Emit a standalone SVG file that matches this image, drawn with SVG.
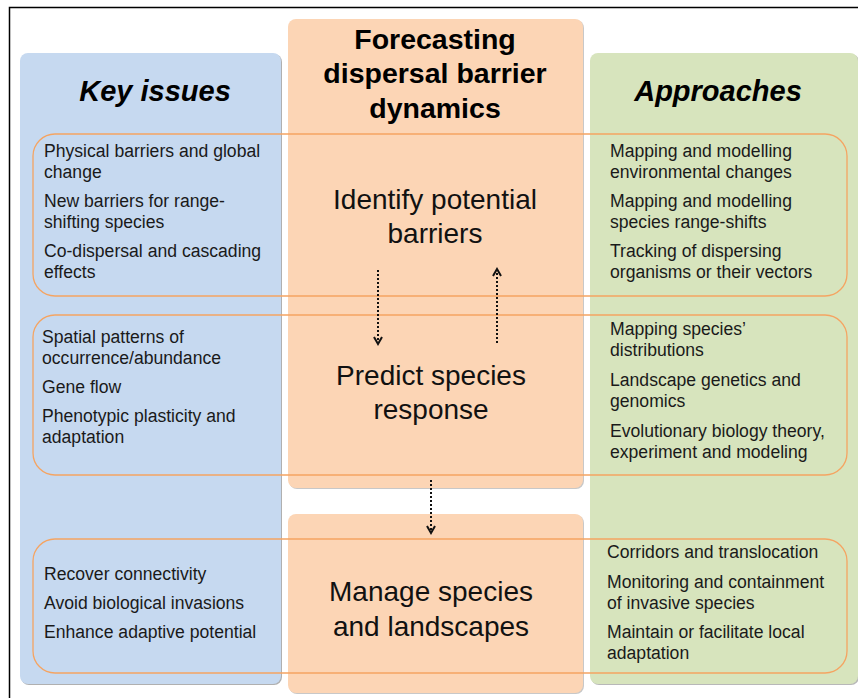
<svg xmlns="http://www.w3.org/2000/svg" width="858" height="698" viewBox="0 0 858 698">
<defs>
<style>
.t{font-family:"Liberation Sans",Arial,sans-serif;font-size:17.6px;fill:#1a1a1a}
.mid{font-family:"Liberation Sans",Arial,sans-serif;font-size:28px;fill:#111;text-anchor:middle}
.hd{font-family:"Liberation Sans",Arial,sans-serif;font-size:29px;font-weight:bold;font-style:italic;fill:#000;text-anchor:middle}
.ttl{font-family:"Liberation Sans",Arial,sans-serif;font-size:28.5px;font-weight:bold;fill:#000;text-anchor:middle}
.ring{fill:none;stroke:#f5a462;stroke-width:1.3}
.conn{fill:none;stroke:#111;stroke-width:2;stroke-dasharray:2 2}
</style>
<marker id="ah" viewBox="0 0 10 10" refX="5" refY="5" markerWidth="10" markerHeight="10" markerUnits="userSpaceOnUse" orient="auto">
<path d="M1,1 L8,5 L1,9" fill="none" stroke="#111" stroke-width="2"/>
</marker>
</defs>
<rect width="858" height="698" fill="#fff"/>
<path d="M9.5,698 V7.5 H858" fill="none" stroke="#000" stroke-width="1.5"/>

<g id="key-issues">
<rect x="21" y="54" width="261" height="631" rx="8" fill="#b0b0b0"/>
<rect x="20" y="53" width="261" height="631" rx="8" fill="#c6d9f0"/>
<text class="hd" x="155" y="101">Key issues</text>
</g>
<g id="approaches">
<rect x="591" y="54" width="268" height="631" rx="8" fill="#b8b8b8"/>
<rect x="590" y="53" width="268" height="631" rx="8" fill="#d7e4bd"/>
<text class="hd" x="718" y="101">Approaches</text>
</g>
<g id="forecasting">
<rect x="289" y="20" width="295" height="469" rx="8" fill="#c8c8c8"/>
<rect x="288" y="19" width="295" height="469" rx="8" fill="#fcd5b5"/>
<text class="ttl" x="435" y="49">Forecasting</text>
<text class="ttl" x="435" y="83">dispersal barrier</text>
<text class="ttl" x="435" y="118">dynamics</text>
</g>
<g id="manage-panel">
<rect x="289" y="515" width="295" height="179" rx="8" fill="#c8c8c8"/>
<rect x="288" y="514" width="295" height="179" rx="8" fill="#fcd5b5"/>
</g>

<g id="row-identify">
<rect class="ring" x="33" y="134" width="814" height="162" rx="22"/>
<text class="mid" x="435" y="209">Identify potential</text>
<text class="mid" x="435" y="243">barriers</text>
<text class="t" x="44" y="157">Physical barriers and global</text>
<text class="t" x="44" y="178">change</text>
<text class="t" x="44" y="207">New barriers for range-</text>
<text class="t" x="44" y="228">shifting species</text>
<text class="t" x="44" y="257">Co-dispersal and cascading</text>
<text class="t" x="44" y="278">effects</text>
<text class="t" x="610" y="157">Mapping and modelling</text>
<text class="t" x="610" y="178">environmental changes</text>
<text class="t" x="610" y="207">Mapping and modelling</text>
<text class="t" x="610" y="228">species range-shifts</text>
<text class="t" x="610" y="257">Tracking of dispersing</text>
<text class="t" x="610" y="278">organisms or their vectors</text>
</g>

<g id="row-predict">
<rect class="ring" x="33" y="315" width="814" height="160" rx="22"/>
<text class="mid" x="431" y="385">Predict species</text>
<text class="mid" x="431" y="419">response</text>
<text class="t" x="42" y="343">Spatial patterns of</text>
<text class="t" x="42" y="364">occurrence/abundance</text>
<text class="t" x="42" y="393">Gene flow</text>
<text class="t" x="42" y="422">Phenotypic plasticity and</text>
<text class="t" x="42" y="443">adaptation</text>
<text class="t" x="610" y="335">Mapping species’</text>
<text class="t" x="610" y="356">distributions</text>
<text class="t" x="610" y="386">Landscape genetics and</text>
<text class="t" x="610" y="407">genomics</text>
<text class="t" x="610" y="437">Evolutionary biology theory,</text>
<text class="t" x="610" y="458">experiment and modeling</text>
</g>

<g id="row-manage">
<rect class="ring" x="33" y="539" width="814" height="134" rx="22"/>
<text class="mid" x="431" y="601">Manage species</text>
<text class="mid" x="431" y="636">and landscapes</text>
<text class="t" x="44" y="580">Recover connectivity</text>
<text class="t" x="44" y="609">Avoid biological invasions</text>
<text class="t" x="44" y="638">Enhance adaptive potential</text>
<text class="t" x="607" y="558">Corridors and translocation</text>
<text class="t" x="607" y="588">Monitoring and containment</text>
<text class="t" x="607" y="609">of invasive species</text>
<text class="t" x="607" y="638">Maintain or facilitate local</text>
<text class="t" x="607" y="659">adaptation</text>
</g>

<g id="connectors">
<path class="conn" d="M378,270 V341" marker-end="url(#ah)"/>
<path class="conn" d="M497,343 V272" marker-end="url(#ah)"/>
<path class="conn" d="M431,480 V530" marker-end="url(#ah)"/>
</g>
</svg>
